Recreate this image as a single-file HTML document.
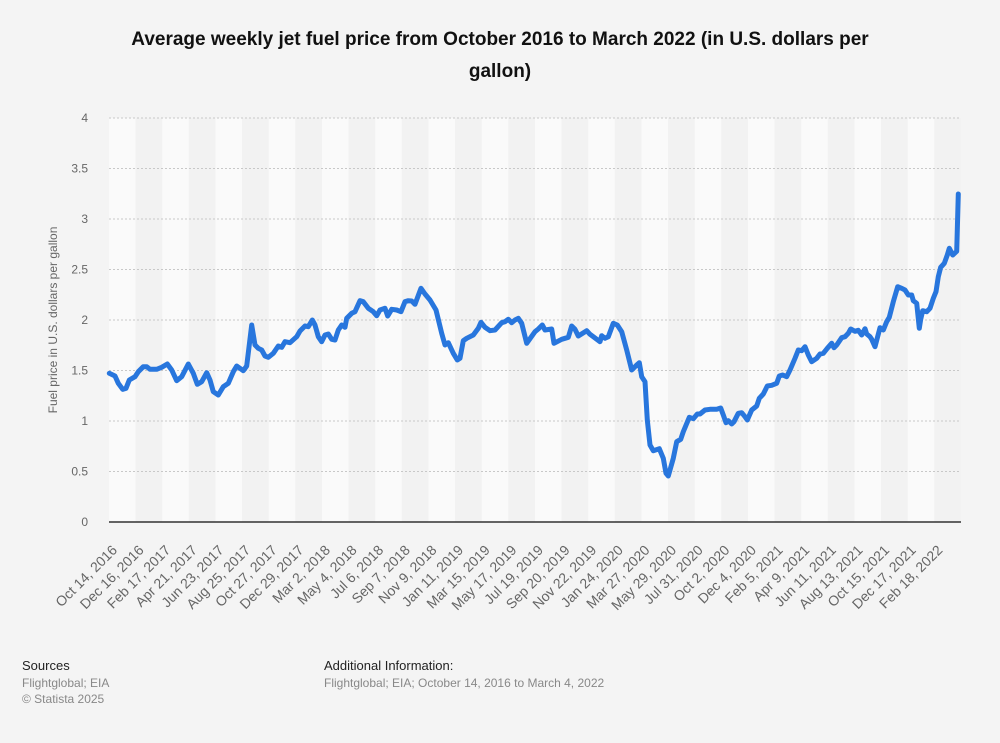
<!DOCTYPE html>
<html><head><meta charset="utf-8"><style>
body{margin:0;background:#f4f4f4;font-family:"Liberation Sans",Arial,sans-serif;}
</style></head><body>
<svg id="s" width="1000" height="743" xmlns="http://www.w3.org/2000/svg" style="display:block">
<rect width="1000" height="743" fill="#f4f4f4"/>
<text x="500" y="45" text-anchor="middle" font-size="19" font-weight="bold" fill="#111">Average weekly jet fuel price from October 2016 to March 2022 (in U.S. dollars per</text>
<text x="500" y="77" text-anchor="middle" font-size="19" font-weight="bold" fill="#111">gallon)</text>
<g id="bands"></g>
<g id="grid"></g>
<line x1="109" y1="522" x2="961" y2="522" stroke="#333" stroke-width="1.5"/>
<text transform="translate(57,320) rotate(-90)" text-anchor="middle" font-size="12" fill="#666">Fuel price in U.S. dollars per gallon</text>
<g id="xl"></g>
<path id="ln" fill="none" stroke="#2876dd" stroke-width="5" stroke-linejoin="round" stroke-linecap="round"/>
<text x="22" y="670" font-size="13" fill="#222">Sources</text>
<text x="22" y="687" font-size="12" fill="#888">Flightglobal; EIA</text>
<text x="22" y="703" font-size="12" fill="#888">© Statista 2025</text>
<text x="324" y="670" font-size="13" fill="#222">Additional Information:</text>
<text x="324" y="687" font-size="12" fill="#888">Flightglobal; EIA; October 14, 2016 to March 4, 2022</text>
</svg>
<script>
var NS="http://www.w3.org/2000/svg";
function el(t,a,p,txt){var e=document.createElementNS(NS,t);for(var k in a)e.setAttribute(k,a[k]);if(txt!=null)e.textContent=txt;document.getElementById(p).appendChild(e);return e;}
var x0=109,x1=961,w=(x1-x0)/32;
for(var i=0;i<32;i++)el("rect",{x:x0+i*w,y:118,width:w,height:404,fill:i%2?"#f2f2f2":"#fafafa"},"bands");
for(var v=0;v<=8;v++){var y=522-v*50.5;
 if(v>0)el("line",{x1:x0,x2:x1,y1:y,y2:y,stroke:"#c8c8c8","stroke-dasharray":"2,2"},"grid");
 el("text",{x:88,y:y+4,"text-anchor":"end","font-size":12,fill:"#666"},"grid",String(v/2));}
var labs=["Oct 14, 2016","Dec 16, 2016","Feb 17, 2017","Apr 21, 2017","Jun 23, 2017","Aug 25, 2017","Oct 27, 2017","Dec 29, 2017","Mar 2, 2018","May 4, 2018","Jul 6, 2018","Sep 7, 2018","Nov 9, 2018","Jan 11, 2019","Mar 15, 2019","May 17, 2019","Jul 19, 2019","Sep 20, 2019","Nov 22, 2019","Jan 24, 2020","Mar 27, 2020","May 29, 2020","Jul 31, 2020","Oct 2, 2020","Dec 4, 2020","Feb 5, 2021","Apr 9, 2021","Jun 11, 2021","Aug 13, 2021","Oct 15, 2021","Dec 17, 2021","Feb 18, 2022"];
labs.forEach(function(l,i){var x=x0+i*w+9;el("text",{transform:"translate("+x+",551) rotate(-45)","text-anchor":"end","font-size":14,fill:"#666"},"xl",l);});
var a=[[28,310],[45,318],[55,340],[68,358],[78,355],[88,330],[105,320],[115,305],[130,290],[140,290],[150,298],[170,298],[185,292],[202,282],[215,300],[230,332],[245,320],[265,282],[280,310],[292,343],[305,335],[320,308],[330,330],[340,365],[355,375],[370,350],[385,340],[400,305],[410,288],[430,302],[440,288],[455,165],[465,225],[475,235],[485,240],[495,258],[505,262],[520,250],[535,228],[545,232],[555,215],[570,218],[590,200],[600,183],[615,168],[625,170],[637,150],[645,165],[655,200],[665,215],[675,195],[685,192],[695,208],[705,210],[715,180],[725,165],[735,172],[740,145],[755,130],[765,125],[780,92],[790,95],[805,115],[820,125],[830,137],[840,120],[855,115],[863,138],[875,118],[890,120],[903,125],[915,95],[925,92],[935,93],[945,103],[963,55],[975,72],[990,90],[1008,120],[1025,190],[1035,225],[1045,218],[1060,250],[1072,270],[1080,265],[1090,212],[1100,205],[1120,195],[1135,175],[1143,157],[1155,172],[1170,182],[1185,180],[1205,158],[1215,155],[1225,148],[1235,158],[1245,150],[1255,145],[1265,160],[1280,220]];
var b=[[15,455],[25,447],[37,435],[45,450],[65,447],[72,490],[95,478],[115,472],[125,438],[135,448],[145,468],[170,452],[180,463],[200,478],[210,485],[215,467],[225,475],[235,470],[250,430],[262,435],[275,455],[290,510],[305,570],[320,555],[328,548],[335,590],[345,605],[352,720],[360,795],[370,812],[388,806],[400,835],[408,880],[415,888],[430,835],[440,785],[452,778],[460,755],[478,712],[490,716],[502,702],[510,702],[525,690],[540,688],[560,688],[572,684],[580,705],[588,728],[595,722],[605,732],[612,725],[625,700],[635,698],[645,710],[652,720],[665,690],[680,678],[688,655],[700,642],[712,618],[725,616],[740,610],[748,588],[758,585],[770,590],[780,570],[795,535],[805,510],[815,512],[825,500],[835,525],[845,545],[860,535],[870,522],[880,520],[892,505],[905,490],[912,503],[920,495],[935,473],[945,470],[955,460],[962,447],[975,454],[985,451],[995,465],[1005,446],[1010,462],[1020,470],[1025,478],[1035,500],[1050,443],[1060,450],[1070,425],[1078,412],[1090,365],[1103,320],[1115,325],[1125,330],[1135,345],[1145,345],[1150,362],[1160,370],[1168,445],[1172,418],[1178,392],[1190,395],[1200,385],[1210,355],[1218,335],[1225,290],[1232,262],[1243,250],[1252,225],[1258,205],[1268,225],[1280,214],[1285,42]];
var pts=a.map(function(p){return [100+p[0]/3,270+p[1]/3];}).concat(b.map(function(p){return [530+p[0]/3,180+p[1]/3];}));
document.getElementById("ln").setAttribute("d","M"+pts.map(function(p){return p[0].toFixed(1)+","+p[1].toFixed(1);}).join("L"));
</script>
</body></html>
